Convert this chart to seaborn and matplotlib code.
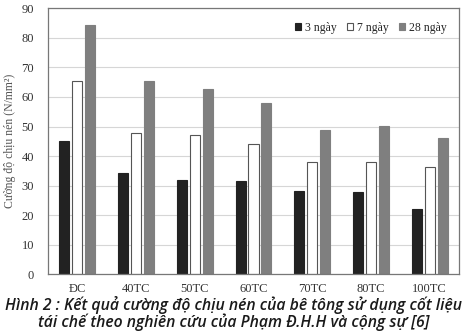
import matplotlib
matplotlib.use("Agg")
import matplotlib.pyplot as plt
import seaborn as sns
import pandas as pd
from matplotlib.patches import Patch

categories = ["ĐC", "40TC", "50TC", "60TC", "70TC", "80TC", "100TC"]
series_names = ["3 ngày", "7 ngày", "28 ngày"]
values_3 = [45.0, 34.2, 31.9, 31.6, 28.3, 27.7, 22.2]
values_7 = [65.5, 47.8, 47.1, 44.0, 38.1, 38.1, 36.2]
values_28 = [84.3, 65.4, 62.7, 57.8, 48.9, 50.3, 46.2]
y_ticks = [0, 10, 20, 30, 40, 50, 60, 70, 80, 90]

rows = []
for s, vals in zip(series_names, [values_3, values_7, values_28]):
    for c, v in zip(categories, vals):
        rows.append({"cat": c, "series": s, "val": v})
df = pd.DataFrame(rows)

sns.set_theme(style="white")
plt.rcParams['font.family'] = ['Liberation Serif', 'DejaVu Serif']

fig = plt.figure(figsize=(4.67, 3.36), dpi=100)
ax = fig.add_axes([48/467, 1 - 274.3/336, 411/467, 266/336])

colors = ["#222222", "#ffffff", "#7f7f7f"]
edges = ["#222222", "#555555", "#7f7f7f"]
sns.barplot(data=df, x="cat", y="val", hue="series", order=categories,
            hue_order=series_names, palette=colors, width=0.66, gap=0.22,
            ax=ax, legend=False, saturation=1)
for i, cont in enumerate(ax.containers):
    for p in cont:
        p.set_edgecolor(edges[i])
        p.set_linewidth(0.8)

ax.set_xlim(-0.5, 6.5)
ax.set_ylim(0, 90)
ax.set_yticks(y_ticks)
ax.yaxis.grid(True, color="#d6d6d6", linewidth=0.8)
ax.set_axisbelow(True)
for sp in ax.spines.values():
    sp.set_visible(True)
    sp.set_color("#777777")
    sp.set_linewidth(0.9)
ax.tick_params(axis="both", labelsize=9, colors="#333333", length=0)
ax.tick_params(axis="y", pad=10)
ax.tick_params(axis="x", pad=6)
ax.set_xlabel("")
ax.set_ylabel("Cường độ chịu nén (N/mm²)", fontsize=8.5, color="#555555", labelpad=4)

handles = [Patch(facecolor=colors[i], edgecolor=edges[i], linewidth=0.8) for i in range(3)]
ax.legend(handles, series_names, loc="upper right", ncol=3, frameon=False,
          fontsize=8.5, handlelength=0.5, handleheight=0.5, handletextpad=0.3,
          columnspacing=0.9, bbox_to_anchor=(0.995, 0.99))

cap_kw = dict(ha="center", va="center", fontsize=11.3, style="italic",
              fontweight="semibold", color="#1a1a1a", family=["Open Sans", "DejaVu Sans"])
fig.text(0.5, 1 - 305/336, "Hình 2 : Kết quả cường độ chịu nén của bê tông sử dụng cốt liệu", **cap_kw)
fig.text(0.5, 1 - 322/336, "tái chế theo nghiên cứu của Phạm Đ.H.H và cộng sự [6]", **cap_kw)

fig.savefig("out.png", dpi=100)
